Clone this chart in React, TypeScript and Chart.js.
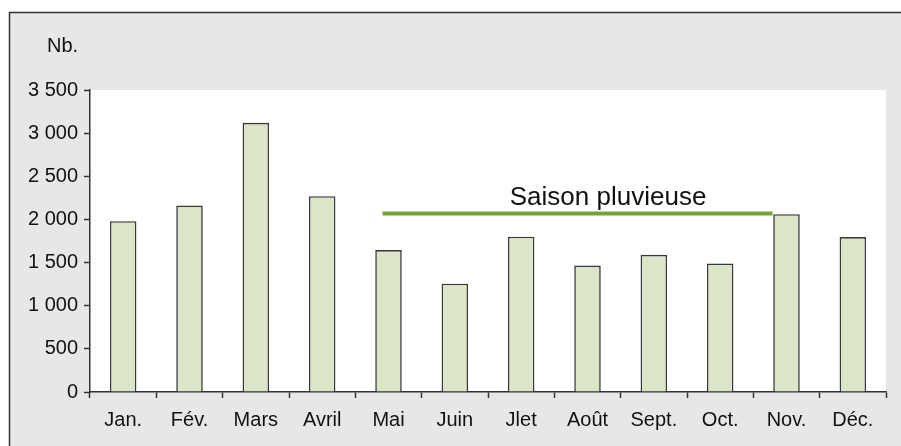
import React, { useEffect, useRef } from "react";
import { Chart, registerables } from "chart.js";

Chart.register(...registerables);

const months = ["Jan.", "Fév.", "Mars", "Avril", "Mai", "Juin", "Jlet", "Août", "Sept.", "Oct.", "Nov.", "Déc."];
const counts = [1980, 2160, 3120, 2270, 1645, 1255, 1800, 1465, 1590, 1490, 2060, 1795];
const yTicks = [0, 500, 1000, 1500, 2000, 2500, 3000, 3500];
const seasonLabel = "Saison pluvieuse";
const seasonStart = 3.91;
const seasonEnd = 9.79;
const seasonLevel = 2070;
const seasonLabelAt = 7.31;
const yAxisTitle = "Nb.";

const FONT = "'Liberation Sans', Arial, Helvetica, sans-serif";

const fmt = (v: number) => {
  const s = String(Math.round(v));
  return s.replace(/\B(?=(\d{3})+(?!\d))/g, " ");
};

const decorPlugin = {
  id: "decor",
  beforeDraw(chart: any) {
    const { ctx, width, height, chartArea } = chart;
    ctx.save();
    ctx.fillStyle = "#ffffff";
    ctx.fillRect(0, 0, width, height);
    ctx.fillStyle = "#e6e7e9";
    ctx.fillRect(9, 12, width - 9, height - 12);
    ctx.strokeStyle = "#333333";
    ctx.lineWidth = 1.5;
    ctx.beginPath();
    ctx.moveTo(9.5, height);
    ctx.lineTo(9.5, 12.5);
    ctx.lineTo(width, 12.5);
    ctx.stroke();
    ctx.fillStyle = "#ffffff";
    ctx.fillRect(chartArea.left, chartArea.top, chartArea.right - chartArea.left, chartArea.bottom - chartArea.top);
    ctx.restore();
  },
  afterDatasetsDraw(chart: any) {
    const { ctx } = chart;
    const x = chart.scales.x;
    const y = chart.scales.y;
    const yl = y.getPixelForValue(seasonLevel);
    ctx.save();
    ctx.strokeStyle = "#77a232";
    ctx.lineWidth = 4;
    ctx.beginPath();
    ctx.moveTo(x.getPixelForValue(seasonStart), yl);
    ctx.lineTo(x.getPixelForValue(seasonEnd), yl);
    ctx.stroke();
    ctx.fillStyle = "#111111";
    ctx.font = `26px ${FONT}`;
    ctx.textAlign = "center";
    ctx.textBaseline = "alphabetic";
    ctx.fillText(seasonLabel, x.getPixelForValue(seasonLabelAt), yl - 8);
    ctx.font = `20px ${FONT}`;
    ctx.textAlign = "left";
    ctx.textBaseline = "middle";
    ctx.fillText(yAxisTitle, 47, 46);
    ctx.restore();
  },
};

export default function App() {
  const ref = useRef<HTMLCanvasElement>(null);
  useEffect(() => {
    if (!ref.current) return;
    const chart = new Chart(ref.current, {
      type: "bar",
      data: {
        labels: months,
        datasets: [
          {
            data: counts,
            backgroundColor: "#dde5c9",
            borderColor: "#3a3a3a",
            borderWidth: 1.6,
            categoryPercentage: 1,
            barPercentage: 0.4,
            grouped: false,
          } as any,
        ],
      },
      options: {
        animation: false,
        responsive: false,
        layout: { padding: { top: 90, right: 15, left: 0, bottom: 0 } },
        plugins: {
          legend: { display: false },
          tooltip: { enabled: false },
          title: { display: false },
        },
        scales: {
          x: {
            type: "category",
            offset: true,
            grid: {
              offset: true,
              drawOnChartArea: false,
              drawTicks: true,
              tickLength: 6,
              tickColor: "#333333",
              tickWidth: 1.5,
            },
            border: { display: true, color: "#333333", width: 1.5 },
            ticks: { color: "#111111", font: { family: FONT, size: 20 }, padding: 10, maxRotation: 0, autoSkip: false },
            afterFit: (s: any) => {
              s.height = 54;
            },
          },
          y: {
            min: 0,
            max: 3500,
            afterBuildTicks: (s: any) => {
              s.ticks = yTicks.map((v) => ({ value: v }));
            },
            grid: {
              drawOnChartArea: false,
              drawTicks: true,
              tickLength: 6,
              tickColor: "#333333",
              tickWidth: 1.5,
            },
            border: { display: true, color: "#333333", width: 1.5 },
            ticks: {
              color: "#111111",
              font: { family: FONT, size: 20 },
              padding: 6,
              callback: (v: any) => fmt(Number(v)),
            },
            afterFit: (s: any) => {
              s.width = 90;
            },
          },
        },
      },
      plugins: [decorPlugin],
    });
    return () => chart.destroy();
  }, []);
  return (
    <div style={{ position: "absolute", left: 0, top: 0, width: 901, height: 446 }}>
      <canvas ref={ref} width={901} height={446} style={{ display: "block" }} />
    </div>
  );
}
